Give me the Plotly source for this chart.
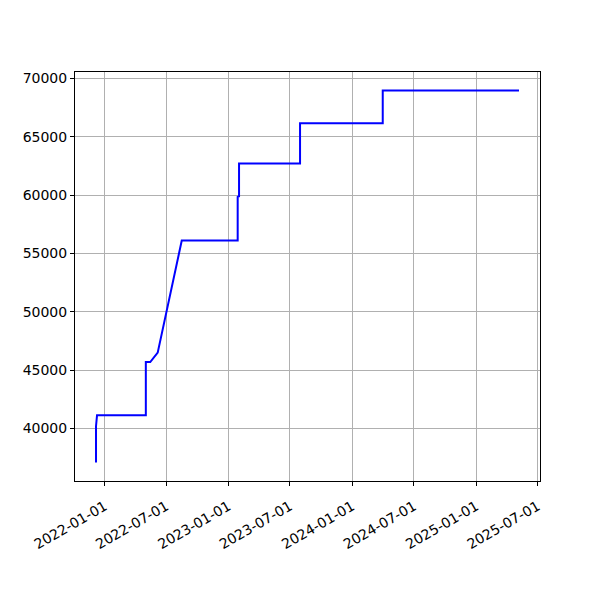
import plotly.graph_objects as go

dates = [
    "2021-12-06", "2021-12-06", "2021-12-09",
    "2022-05-02", "2022-05-02", "2022-05-15", "2022-06-06", "2022-08-16",
    "2023-01-28", "2023-01-28", "2023-02-01", "2023-02-01",
    "2023-07-31", "2023-07-31",
    "2024-03-31", "2024-03-31",
    "2025-05-07",
]
values = [
    37100, 40200, 41150,
    41150, 45700, 45700, 46500, 56100,
    56100, 59850, 59900, 62700,
    62700, 66150,
    66150, 68950,
    68950,
]

x_ticks = ["2022-01-01", "2022-07-01", "2023-01-01", "2023-07-01",
           "2024-01-01", "2024-07-01", "2025-01-01", "2025-07-01"]
y_ticks = [40000, 45000, 50000, 55000, 60000, 65000, 70000]

fig = go.Figure()
fig.add_trace(go.Scatter(x=dates, y=values, mode="lines",
                         line=dict(color="#0000ff", width=2)))

axis_common = dict(
    showline=True, linecolor="black", linewidth=1, mirror=True,
    ticks="outside", ticklen=4, tickcolor="black", tickwidth=1,
    showgrid=True, gridcolor="#b0b0b0", gridwidth=0.8,
    zeroline=False, automargin=False,
    tickfont=dict(family="DejaVu Sans", size=14, color="black"),
)

fig.update_layout(
    width=600, height=600,
    paper_bgcolor="white", plot_bgcolor="white",
    margin=dict(l=67, r=68, t=64, b=127),
    showlegend=False,
    xaxis=dict(type="date", range=["2021-10-05", "2025-07-08"],
               tickvals=x_ticks, ticktext=x_ticks, tickangle=-30,
               ticklabelstandoff=7, **axis_common),
    yaxis=dict(range=[35510, 70540], tickvals=y_ticks,
               ticktext=[str(v) for v in y_ticks], **axis_common),
)

fig.write_html("out.html")
